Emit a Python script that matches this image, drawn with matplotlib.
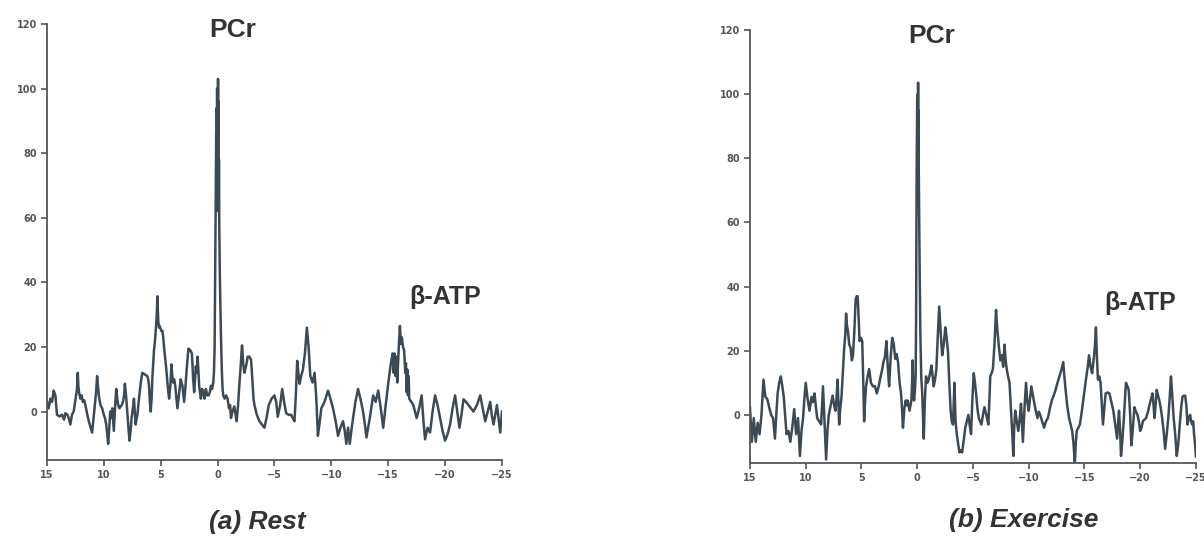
"""
31P spectra of muscle at rest and during exercise, PCr and beta-ATP regions.
"""

import matplotlib
matplotlib.use("Agg")
import matplotlib.pyplot as plt

# chemical shift (ppm) and signal, resting muscle
rest_ppm = [
    15.0, 14.85, 14.7, 14.55, 14.41, 14.26, 14.12, 13.9, 13.68, 13.5,
    13.38, 13.2, 13.09, 12.94, 12.8, 12.65, 12.52, 12.44, 12.36, 12.29,
    12.24, 12.18, 12.06, 11.95, 11.85, 11.72, 11.62, 11.45, 11.32, 11.15,
    11.03, 10.9, 10.79, 10.68, 10.59, 10.52, 10.44, 10.35, 10.29, 10.15,
    10.0, 9.9, 9.79, 9.7, 9.62, 9.52, 9.44, 9.35, 9.26, 9.18,
    9.12, 9.0, 8.91, 8.82, 8.74, 8.62, 8.53, 8.42, 8.32, 8.22,
    8.15, 8.05, 7.94, 7.84, 7.74, 7.65, 7.56, 7.45, 7.35, 7.28,
    7.21, 7.05, 6.91, 6.75, 6.62, 6.4, 6.18, 6.1, 6.03, 5.95,
    5.88, 5.8, 5.74, 5.66, 5.59, 5.5, 5.44, 5.36, 5.29, 5.25,
    5.21, 5.15, 5.09, 4.95, 4.85, 4.78, 4.71, 4.62, 4.56, 4.48,
    4.41, 4.33, 4.26, 4.15, 4.06, 3.98, 3.91, 3.82, 3.74, 3.64,
    3.53, 3.4, 3.24, 3.16, 3.09, 3.0, 2.94, 2.84, 2.74, 2.65,
    2.56, 2.4, 2.26, 2.2, 2.15, 2.1, 2.06, 1.98, 1.91, 1.83,
    1.76, 1.69, 1.62, 1.55, 1.47, 1.36, 1.26, 1.15, 1.03, 0.9,
    0.79, 0.68, 0.59, 0.48, 0.38, 0.32, 0.26, 0.21, 0.16, 0.12,
    0.1, 0.08, 0.06, 0.04, 0.02, 0.0, -0.02, -0.04, -0.06, -0.08,
    -0.1, -0.12, -0.15, -0.2, -0.26, -0.32, -0.38,
    -0.44, -0.5, -0.62, -0.75, -0.88, -1.0, -1.1, -1.18, -1.3, -1.47,
    -1.58, -1.68, -1.8, -1.91, -2.03, -2.15, -2.25, -2.35, -2.5, -2.65,
    -2.8, -2.94, -3.02, -3.09, -3.16, -3.24, -3.45, -3.68, -3.9, -4.12,
    -4.3, -4.5, -4.75, -5.0, -5.15, -5.29, -5.5, -5.68, -5.85, -6.03,
    -6.25, -6.47, -6.6, -6.76, -6.88, -7.0, -7.1, -7.21, -7.35, -7.5,
    -7.68, -7.85, -8.0, -8.15, -8.35, -8.53, -8.68, -8.82, -8.95, -9.12,
    -9.4, -9.71, -9.92, -10.15, -10.38, -10.59, -10.8, -11.03, -11.18, -11.32,
    -11.47, -11.62, -11.76, -11.91, -12.12, -12.35, -12.56, -12.79, -12.95, -13.09,
    -13.38, -13.68, -13.9, -14.12, -14.35, -14.56, -14.78, -15.0, -15.2, -15.38,
    -15.48, -15.56, -15.64, -15.72, -15.8, -15.88, -15.96, -16.03, -16.12, -16.2,
    -16.3, -16.4, -16.5, -16.56, -16.62, -16.68, -16.74, -16.8, -16.85,
    -17.03, -17.21, -17.35, -17.5, -17.72, -17.94, -18.1, -18.24, -18.46, -18.68,
    -18.9, -19.12, -19.34, -19.56, -19.78, -20.0, -20.22, -20.44, -20.66, -20.88,
    -21.07, -21.26, -21.44, -21.62, -21.84, -22.06, -22.28, -22.5, -22.8, -23.09,
    -23.31, -23.53, -23.75, -23.97, -24.1, -24.26, -24.41, -24.56, -24.7, -24.85,
    -25.0,
]
rest_signal = [
    3, 1, 4, 3, 6.5, 5, -1, -1.5, -1, -2.5,
    -0.5, -1, -2, -4, -1, 0, 3, 5, 7, 12,
    8, 6, 4, 5, 3, 3.5, 2, -1, -3, -5,
    -6.5, -2, 2, 6, 11, 8, 5, 3, 2, 1,
    -1, -2, -4, -7, -10, -5, 0, -2, 1, -3,
    -6, 2, 7, 4, 2, 1, 1.6, 2, 3, 5,
    8.6, 5, 0, -5, -9, -6, -2, 1, 4, 0,
    -4, -1, 4, 9, 12, 11.5, 11, 10, 8, 3,
    0, 4, 10, 15, 19, 22, 25, 29, 35.7, 31,
    28, 26, 26.5, 25, 25, 23, 20, 17, 15, 12,
    9, 6, 4, 8, 14.6, 11, 9, 10, 8.6, 5,
    1, 5, 10, 9, 8, 5, 3, 7, 12, 16,
    19.5, 19, 18, 14, 10, 8, 6, 10, 14, 12,
    17, 13, 8, 6, 4, 7, 6, 4, 7, 5,
    5, 6, 8, 7, 9, 12, 20, 45, 70, 86,
    62, 94, 70, 100, 80, 97, 72, 103, 85, 96,
    66, 78, 57, 42, 30, 20, 12,
    7, 5, 4, 5, 4, 1, 2, -2, 0, 1.6,
    -1, -3, 2, 8, 14, 20.5, 15, 12, 14, 17,
    17, 16, 12, 8, 4, 2, -1, -3, -4, -5,
    -2, 2, 4, 5, 3, -1.6, 2, 7, 3, -0.5,
    -1, -1, -2, -3, 5, 15.7, 12, 8.6, 11, 13,
    18, 26, 20, 11, 9, 12, 4, -7.5, -4, 1,
    3, 6.5, 4, 1, -3, -7.5, -5, -3, -6, -10,
    -5, -10, -6, -2, 3, 7, 4, 0, -4, -8,
    -2, 5, 3, 6.5, 1, -5, 2, 8.6, 14, 18,
    12, 18, 11, 17, 9, 16, 22, 26.5, 21, 23,
    20, 19, 12, 15, 6, 13, 5, 11, 4,
    3, 2, 0, -2, 1, 5, -3, -8.6, -5, -6.5,
    0, 5, 2, -2, -6, -9, -7, -4, 1, 5,
    0, -5, -1, 3.8, 3, 2, 1, 0, 2, 5,
    1, -3, 0, 3, -1, -4, -1, 2, -2, -6.5,
    0,
]

# chemical shift (ppm) and signal, exercising muscle
exercise_ppm = [
    15.0, 14.83, 14.66, 14.48, 14.31, 14.14, 13.97, 13.79, 13.62, 13.45,
    13.28, 13.1, 12.93, 12.76, 12.64, 12.52, 12.38, 12.24, 12.1, 11.97,
    11.85, 11.72, 11.55, 11.38, 11.21, 11.03, 10.86, 10.69, 10.52, 10.38,
    10.24, 10.12, 10.0, 9.83, 9.66, 9.48, 9.35, 9.21, 9.1, 8.97,
    8.8, 8.62, 8.45, 8.3, 8.17, 8.05, 7.93, 7.76, 7.59, 7.45,
    7.34, 7.24, 7.14, 7.07, 7.0, 6.9, 6.79, 6.67, 6.55, 6.45,
    6.38, 6.3, 6.21, 6.1, 5.97, 5.86, 5.76, 5.64, 5.52, 5.43,
    5.34, 5.25, 5.17, 5.05, 4.93, 4.85, 4.76, 4.68, 4.59, 4.45,
    4.31, 4.15, 3.97, 3.8, 3.62, 3.45, 3.28, 3.15, 3.03, 2.9,
    2.76, 2.64, 2.52, 2.38, 2.24, 2.1, 1.97, 1.85, 1.72, 1.58,
    1.45, 1.36, 1.28, 1.15, 1.03, 0.95, 0.86, 0.78, 0.69, 0.6,
    0.52, 0.46, 0.41, 0.35, 0.28, 0.2, 0.14, 0.1, 0.05, 0.0,
    -0.02, -0.04, -0.06, -0.08, -0.1, -0.12, -0.14, -0.17, -0.22, -0.28,
    -0.36, -0.45, -0.52,
    -0.59, -0.68, -0.79, -0.9, -1.03, -1.15, -1.28, -1.38, -1.48, -1.6,
    -1.72, -1.85, -1.97, -2.1, -2.24, -2.38, -2.52, -2.64, -2.76, -2.88,
    -3.0, -3.1, -3.21, -3.28, -3.34, -3.44, -3.55, -3.67, -3.79, -3.9,
    -4.03, -4.17, -4.31, -4.45, -4.59, -4.7, -4.83, -4.95, -5.07, -5.18,
    -5.28, -5.4, -5.52, -5.64, -5.76, -5.9, -6.03, -6.2, -6.38, -6.48,
    -6.55, -6.67, -6.79, -6.93, -7.07, -7.2, -7.34, -7.46, -7.59, -7.71,
    -7.83, -7.93, -8.03, -8.15, -8.28, -8.36, -8.45, -8.53, -8.62, -8.7,
    -8.79, -8.93, -9.07, -9.2, -9.31, -9.4, -9.48, -9.62, -9.76, -9.88,
    -10.0, -10.12, -10.24, -10.38, -10.52, -10.65, -10.79, -10.9, -11.03, -11.2,
    -11.38, -11.55, -11.72, -11.9, -12.07, -12.24, -12.41, -12.58, -12.76, -12.93,
    -13.1, -13.2, -13.28, -13.45, -13.62, -13.76, -13.9, -14.02, -14.14, -14.22,
    -14.31, -14.45, -14.59, -14.76, -14.93, -15.05, -15.17, -15.3, -15.41, -15.55,
    -15.69, -15.85, -15.95, -16.03, -16.12, -16.21, -16.33, -16.45, -16.55, -16.66,
    -16.78, -16.9, -17.07, -17.24, -17.42, -17.59, -17.76, -17.93, -18.02, -18.1,
    -18.2, -18.28, -18.4, -18.52, -18.62, -18.72, -18.85, -18.97, -19.1, -19.21,
    -19.35, -19.48, -19.62, -19.76, -19.88, -20.0, -20.12, -20.24, -20.38, -20.52,
    -20.7, -20.86, -20.98, -21.1, -21.2, -21.28, -21.38, -21.48, -21.6, -21.72,
    -21.85, -21.97, -22.1, -22.24, -22.38, -22.52, -22.64, -22.76, -22.88, -23.0,
    -23.14, -23.28, -23.42, -23.55, -23.67, -23.79, -23.9, -24.03, -24.14, -24.24,
    -24.36, -24.48, -24.57, -24.66, -24.75, -24.83, -24.92, -25.0,
]
exercise_signal = [
    2.4, -8.4, -1, -8.4, -2.5, -6, 0, 11, 5.6, 5,
    2.4, 0, -1, -7.4, 0, 6.7, 10, 12, 9, 5.6,
    0, -6, -5, -8.4, -4, 1.8, -6, -1, -12.8, -5,
    -1, 5, 10, 5, 1.3, 5.6, 4, 6.7, 3, -1,
    -2, -3, 8.9, -3, -13.9, -5, 0, 3, 6, 3,
    1.3, 5, 11, 4, -3, 2, 5.6, 13, 20.8, 25,
    31.6, 28, 26, 22, 20.8, 17, 18.6, 26, 36, 37,
    37, 30, 23, 24, 23, 12, -2, 4, 8.9, 12,
    14.3, 10, 8.9, 9, 6.7, 9, 12, 14, 16.5, 18,
    23, 15, 8.9, 18, 24, 22, 17.5, 19, 16.5, 10,
    6.7, 2, -4, 2, 4.5, 3, 4.5, 3, 1.3, 3,
    4.5, 10, 17, 8, 4.5, 8, 12, 30, 75, 98.7,
    78, 100, 80, 103.6, 76, 95, 76, 64, 45, 26,
    12, 6.7, 0,
    -7.4, 4, 12, 10, 11, 13, 15.4, 12, 8.9, 11,
    14.3, 25, 33.8, 26, 18.6, 22, 27.3, 24, 19.7, 10,
    1.3, -2, -3, 4, 10, -2, -6, -9, -11.7, -11,
    -11.7, -8, -4, -2, 0, -3, -6, 5, 13, 10,
    6.7, 2, -1, -2, -3, 0, 2.4, 0, -3, 5,
    12, 13, 14.3, 22, 32.7, 26, 20.8, 17, 18.6, 15,
    21.9, 17, 14.3, 12, 10, 5, -1, -6, -12.8, -4,
    1.3, -2, -5, -1, 3.5, -3, -8.4, 2, 10, 4,
    1.3, 5, 8.9, 6, 3.5, 1, -1, 1, 0, -2,
    -4, -2, -1, 2, 4.5, 6, 7.8, 10, 12, 14,
    16.5, 12, 8.9, 3, -1, -3, -5, -9, -15, -9,
    -5, -4, -3, 1, 5.6, 9, 12, 15, 18.6, 15,
    13, 18, 22, 27.3, 18, 11, 12, 10, 4, -3,
    2, 6.7, 7, 6.7, 4, 1.3, -3, -7.4, -3, 1.3,
    -5, -12.8, -8, -2, 4, 10, 9, 7.8, 0, -9.5,
    -4, 2.4, 1, 0, -2, -5, -4, -2, -1.5, -1,
    1, 3.5, 5, 6.7, 3, -1, 3, 7.8, 6, 4.5,
    2, -1, -5, -10.6, -6, -1, 5, 12, 6, -1,
    -6, -12.8, -9, -3, 2, 5.6, 6, 6, 3, -3,
    -1, 0, -2, -3, -2, -6, -9, -13,
]

x_ticks = [15, 10, 5, 0, -5, -10, -15, -20, -25]
y_ticks = [0, 20, 40, 60, 80, 100, 120]

LINE_COLOR = '#3c4a56'
AXIS_COLOR = '#555555'
TEXT_COLOR = '#333333'
LABEL_FONT = ['Liberation Sans', 'DejaVu Sans']

fig = plt.figure(figsize=(12.04, 5.46), dpi=100)
ax_rest = fig.add_axes([0.0390, 0.1575, 0.3779, 0.7985])
ax_ex = fig.add_axes([0.6229, 0.1520, 0.3704, 0.7930])

panels = [
    (ax_rest, rest_ppm, rest_signal, 35.5),
    (ax_ex, exercise_ppm, exercise_signal, 35.0),
]

for ax, ppm, signal, atp_y in panels:
    ax.plot(ppm, signal, color=LINE_COLOR, linewidth=1.8)
    ax.set_xlim(15, -25)
    ax.set_ylim(-15, 120)
    ax.set_xticks(x_ticks)
    ax.set_yticks(y_ticks)

    for side in ['top', 'right']:
        ax.spines[side].set_visible(False)
    for side in ['left', 'bottom']:
        ax.spines[side].set_color(AXIS_COLOR)
        ax.spines[side].set_linewidth(1.3)

    ax.tick_params(colors=AXIS_COLOR, labelcolor=AXIS_COLOR, width=1.2,
                   length=4, pad=3, labelsize=7)
    for lbl in ax.get_xticklabels() + ax.get_yticklabels():
        lbl.set_fontweight('bold')

    ax.text(-1.3, 118, 'PCr', ha='center', va='center', fontsize=19,
            fontweight='bold', color=TEXT_COLOR, family=LABEL_FONT)
    ax.text(-20, atp_y, 'β-ATP', ha='center', va='center', fontsize=18,
            fontweight='bold', color=TEXT_COLOR, family=LABEL_FONT)

fig.text(0.2135, 0.044, '(a) Rest', ha='center', va='center', fontsize=19,
         fontweight='bold', fontstyle='italic', color=TEXT_COLOR,
         family=LABEL_FONT)
fig.text(0.8505, 0.0476, '(b) Exercise', ha='center', va='center', fontsize=19,
         fontweight='bold', fontstyle='italic', color=TEXT_COLOR,
         family=LABEL_FONT)

fig.savefig('out.png', dpi=100)
